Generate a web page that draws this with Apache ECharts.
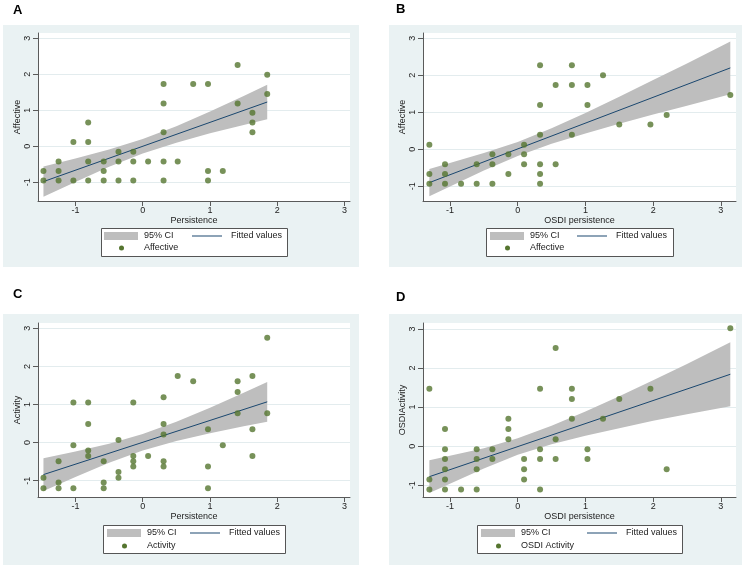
<!DOCTYPE html>
<html><head><meta charset="utf-8">
<script src="https://cdn.jsdelivr.net/npm/echarts@6/dist/echarts.min.js"></script>
<style>html,body{margin:0;padding:0;background:#fff;} #c{width:748px;height:569px;}</style>
</head><body><div id="c"></div>
<script>
// ---------- Data ----------
const tickValues = [-1, 0, 1, 2, 3];

// Panel A: Persistence vs Affective
const persA = [-1.475,-1.475,-1.25,-1.25,-1.25,-1.03,-1.03,-0.81,-0.81,-0.81,-0.81,-0.58,-0.58,-0.58,-0.36,-0.36,-0.36,-0.14,-0.14,-0.14,0.08,0.31,0.31,0.31,0.31,0.31,0.52,0.75,0.97,0.97,0.97,1.19,1.41,1.41,1.63,1.63,1.63,1.85,1.85];
const affA  = [-0.685,-0.95,-0.42,-0.685,-0.95,0.12,-0.95,0.66,0.12,-0.42,-0.95,-0.42,-0.685,-0.95,-0.15,-0.42,-0.95,-0.15,-0.42,-0.95,-0.42,1.73,1.19,0.39,-0.42,-0.95,-0.42,1.73,1.73,-0.685,-0.95,-0.685,2.26,1.19,0.93,0.66,0.39,1.99,1.45];
const fitXA = [-1.475, 1.85];
const fitYA = [-0.98, 1.23];
const ciXA  = [-1.475,-1,-0.5,0,0.5,1,1.5,1.85];
const ciHiA = [-0.56,-0.34,-0.09,0.20,0.56,0.97,1.40,1.71];
const ciLoA = [-1.40,-0.99,-0.57,-0.20,0.10,0.36,0.59,0.75];

// Panel B: OSDI persistence vs Affective
const persB = [-1.305,-1.305,-1.305,-1.074,-1.074,-1.074,-0.837,-0.606,-0.606,-0.374,-0.374,-0.374,-0.138,-0.138,0.094,0.094,0.094,0.33,0.33,0.33,0.33,0.33,0.33,0.56,0.56,0.80,0.80,0.80,1.03,1.03,1.26,1.50,1.96,2.20,3.14];
const affB  = [0.126,-0.667,-0.93,-0.405,-0.667,-0.93,-0.93,-0.405,-0.93,-0.135,-0.405,-0.93,-0.135,-0.667,0.126,-0.135,-0.405,2.27,1.20,0.39,-0.405,-0.667,-0.93,1.74,-0.405,2.27,1.74,0.39,1.74,1.20,2.0,0.667,0.667,0.93,1.47];
const fitXB = [-1.305, 3.14];
const fitYB = [-0.90, 2.20];
const ciXB  = [-1.305,-0.5,0,0.5,1,1.5,2,2.5,3.14];
const ciHiB = [-0.53,-0.10,0.20,0.57,0.98,1.42,1.87,2.32,2.91];
const ciLoB = [-1.27,-0.57,-0.18,0.15,0.43,0.69,0.94,1.18,1.49];

// Panel C: Persistence vs Activity
const persC = [-1.475,-1.475,-1.25,-1.25,-1.25,-1.03,-1.03,-1.03,-0.81,-0.81,-0.81,-0.81,-0.58,-0.58,-0.58,-0.36,-0.36,-0.36,-0.14,-0.14,-0.14,-0.14,0.08,0.31,0.31,0.31,0.31,0.31,0.52,0.75,0.97,0.97,0.97,1.19,1.41,1.41,1.41,1.63,1.63,1.63,1.85,1.85];
const actC  = [-0.92,-1.20,-0.49,-1.05,-1.20,1.05,-0.07,-1.20,1.05,0.49,-0.21,-0.35,-0.49,-1.05,-1.20,0.07,-0.77,-0.92,1.05,-0.35,-0.49,-0.63,-0.35,1.19,0.49,0.21,-0.49,-0.63,1.75,1.61,0.35,-0.63,-1.20,-0.07,1.61,1.33,0.77,1.75,0.35,-0.35,2.75,0.77];
const fitXC = [-1.475, 1.85];
const fitYC = [-0.84, 1.07];
const ciXC  = [-1.475,-1,-0.5,0,0.5,1,1.5,1.85];
const ciHiC = [-0.41,-0.235,-0.03,0.226,0.548,0.916,1.309,1.59];
const ciLoC = [-1.27,-0.90,-0.53,-0.21,0.04,0.246,0.427,0.55];

// Panel D: OSDI persistence vs OSDI Activity
const persD = [-1.305,-1.305,-1.305,-1.074,-1.074,-1.074,-1.074,-1.074,-1.074,-0.837,-0.606,-0.606,-0.606,-0.606,-0.374,-0.374,-0.138,-0.138,-0.138,0.094,0.094,0.094,0.33,0.33,0.33,0.33,0.56,0.56,0.56,0.80,0.80,0.80,1.03,1.03,1.26,1.50,1.96,2.20,3.14];
const actD  = [1.47,-0.85,-1.11,0.44,-0.08,-0.33,-0.59,-0.85,-1.11,-1.11,-0.08,-0.33,-0.59,-1.11,-0.08,-0.33,0.70,0.44,0.18,-0.33,-0.59,-0.85,1.47,-0.08,-0.33,-1.11,2.51,0.18,-0.33,1.47,1.21,0.70,-0.08,-0.33,0.70,1.21,1.47,-0.59,3.02];
const fitXD = [-1.305, 3.14];
const fitYD = [-0.78, 1.84];
const ciXD  = [-1.305,-0.5,0,0.5,1,1.5,2,2.5,3.14];
const ciHiD = [-0.36,-0.05,0.20,0.52,0.89,1.28,1.69,2.10,2.66];
const ciLoD = [-1.20,-0.57,-0.22,0.05,0.27,0.46,0.65,0.82,1.02];

// ---------- Layout / styles ----------
const FONT = '"Liberation Sans", Arial, Helvetica, sans-serif';
const C_BG = '#eaf2f3', C_GRIDLINE = '#e3ecee', C_CI = '#bebebe', C_FIT = '#1a476f', C_PT = '#55752f', C_AXIS = '#5a5a5a', C_TXT = '#222';

const panels = [
  {letter:'A', letterPos:[13,4], bg:[3,25,356,242], grid:[38,33,312,168], xRange:[-1.556,3.080], yRange:[-1.519,3.147],
   xName:'Persistence', yName:'Affective', sName:'Affective', x:persA, y:affA, fitX:fitXA, fitY:fitYA, ciX:ciXA, ciLo:ciLoA, ciHi:ciHiA,
   box:[101,228,186,28], rows:[236,248], swLeft:104, lnLeft:192},
  {letter:'B', letterPos:[396,3], bg:[389,25,353,242], grid:[423,33,313,168], xRange:[-1.399,3.224], yRange:[-1.397,3.143],
   xName:'OSDI persistence', yName:'Affective', sName:'Affective', x:persB, y:affB, fitX:fitXB, fitY:fitYB, ciX:ciXB, ciLo:ciLoB, ciHi:ciHiB,
   box:[486,228,187,28], rows:[236,248], swLeft:490, lnLeft:577},
  {letter:'C', letterPos:[13,288], bg:[3,314,356,251], grid:[38,323,312,174], xRange:[-1.556,3.080], yRange:[-1.428,3.139],
   xName:'Persistence', yName:'Activity', sName:'Activity', x:persC, y:actC, fitX:fitXC, fitY:fitYC, ciX:ciXC, ciLo:ciLoC, ciHi:ciHiC,
   box:[103,525,182,28], rows:[533,546], swLeft:107, lnLeft:190},
  {letter:'D', letterPos:[396,291], bg:[389,314,353,251], grid:[423,323,313,174], xRange:[-1.399,3.224], yRange:[-1.30,3.152],
   xName:'OSDI persistence', yName:'OSDIActivity', sName:'OSDI Activity', x:persD, y:actD, fitX:fitXD, fitY:fitYD, ciX:ciXD, ciLo:ciLoD, ciHi:ciHiD,
   box:[477,525,205,28], rows:[533,546], swLeft:481, lnLeft:587}
];

const option = {
  animation: false,
  backgroundColor: '#ffffff',
  textStyle: {fontFamily: FONT},
  title: [], grid: [], xAxis: [], yAxis: [], series: [], legend: [], graphic: []
};

panels.forEach((p, i) => {
  option.title.push({text: p.letter, left: p.letterPos[0], top: p.letterPos[1], padding: 0,
    textStyle: {fontSize: 13, fontWeight: 'bold', color: '#000', fontFamily: FONT}});
  option.graphic.push({type: 'rect', z: -10, silent: true, shape: {x: p.bg[0], y: p.bg[1], width: p.bg[2], height: p.bg[3]}, style: {fill: C_BG}});
  option.graphic.push({type: 'rect', z: -9, silent: true, shape: {x: p.grid[0], y: p.grid[1], width: p.grid[2], height: p.grid[3]}, style: {fill: '#ffffff'}});
  option.graphic.push({type: 'rect', z: 1, silent: true, shape: {x: p.box[0] + 0.5, y: p.box[1] + 0.5, width: p.box[2], height: p.box[3]}, style: {fill: '#ffffff', stroke: '#555', lineWidth: 1}});

  option.grid.push({left: p.grid[0], top: p.grid[1], width: p.grid[2], height: p.grid[3], containLabel: false});
  const axisCommon = {
    gridIndex: i, type: 'value', nameLocation: 'middle',
    nameTextStyle: {fontSize: 9, color: C_TXT, fontFamily: FONT},
    axisLine: {show: true, onZero: false, lineStyle: {color: C_AXIS, width: 1}},
    axisTick: {show: true, length: 5, customValues: tickValues, lineStyle: {color: C_AXIS, width: 1}}
  };
  option.xAxis.push(Object.assign({}, axisCommon, {
    min: p.xRange[0], max: p.xRange[1], name: p.xName, nameGap: 13,
    axisLabel: {customValues: tickValues, fontSize: 9, color: C_TXT, margin: 5, fontFamily: FONT},
    splitLine: {show: false}
  }));
  option.yAxis.push(Object.assign({}, axisCommon, {
    min: p.yRange[0], max: p.yRange[1], name: p.yName, nameGap: 16,
    axisLabel: {customValues: tickValues, fontSize: 9, color: C_TXT, margin: 6, rotate: 90, fontFamily: FONT},
    splitLine: {show: true, lineStyle: {color: C_GRIDLINE, width: 1}}
  }));

  // CI band as polygon through the axis scales
  option.series.push({
    type: 'custom', name: '95% CI', xAxisIndex: i, yAxisIndex: i, z: 2, silent: true, clip: true,
    itemStyle: {color: C_CI},
    data: p.ciX.map((x, k) => [x, p.ciLo[k], p.ciHi[k]]),
    encode: {x: 0, y: [1, 2]},
    renderItem: function (params, api) {
      if (params.dataIndex !== 0) return null;
      const up = p.ciX.map((x, k) => api.coord([x, p.ciHi[k]]));
      const lo = p.ciX.map((x, k) => api.coord([x, p.ciLo[k]])).reverse();
      return {type: 'polygon', shape: {points: up.concat(lo)}, style: {fill: C_CI, stroke: null}};
    }
  });
  option.series.push({
    type: 'line', name: 'Fitted values', xAxisIndex: i, yAxisIndex: i, z: 3,
    symbol: 'none', lineStyle: {color: C_FIT, width: 1}, itemStyle: {color: C_FIT}, silent: true,
    data: p.fitX.map((x, k) => [x, p.fitY[k]])
  });
  option.series.push({
    type: 'scatter', name: p.sName, xAxisIndex: i, yAxisIndex: i, z: 4,
    symbol: 'circle', symbolSize: 6, itemStyle: {color: C_PT}, silent: true,
    data: p.x.map((x, k) => [x, p.y[k]])
  });

  const legText = (padLeft) => ({fontSize: 9, lineHeight: 12, color: C_TXT, fontFamily: FONT, padding: [0, 0, 0, padLeft]});
  option.legend.push({
    data: [{name: '95% CI', icon: 'rect', itemStyle: {color: C_CI, opacity: 1, borderWidth: 0}}],
    left: p.swLeft, top: p.rows[0] - 6, padding: 0, itemWidth: 34, itemHeight: 8,
    selectedMode: false, textStyle: legText(1), z: 5
  });
  option.legend.push({
    data: [{name: 'Fitted values', icon: 'rect', itemStyle: {color: C_FIT, opacity: 1, borderWidth: 0}}],
    left: p.lnLeft, top: p.rows[0] - 6, padding: 0, itemWidth: 30, itemHeight: 1,
    selectedMode: false, textStyle: legText(4), z: 5
  });
  option.legend.push({
    data: [{name: p.sName, icon: 'circle', itemStyle: {color: C_PT, opacity: 1, borderWidth: 0}}],
    left: p.swLeft + 15, top: p.rows[1] - 6, padding: 0, itemWidth: 5, itemHeight: 5,
    selectedMode: false, textStyle: legText(15), z: 5
  });
});

const chart = echarts.init(document.getElementById('c'), null, {renderer: 'canvas'});
chart.setOption(option);
</script></body></html>
